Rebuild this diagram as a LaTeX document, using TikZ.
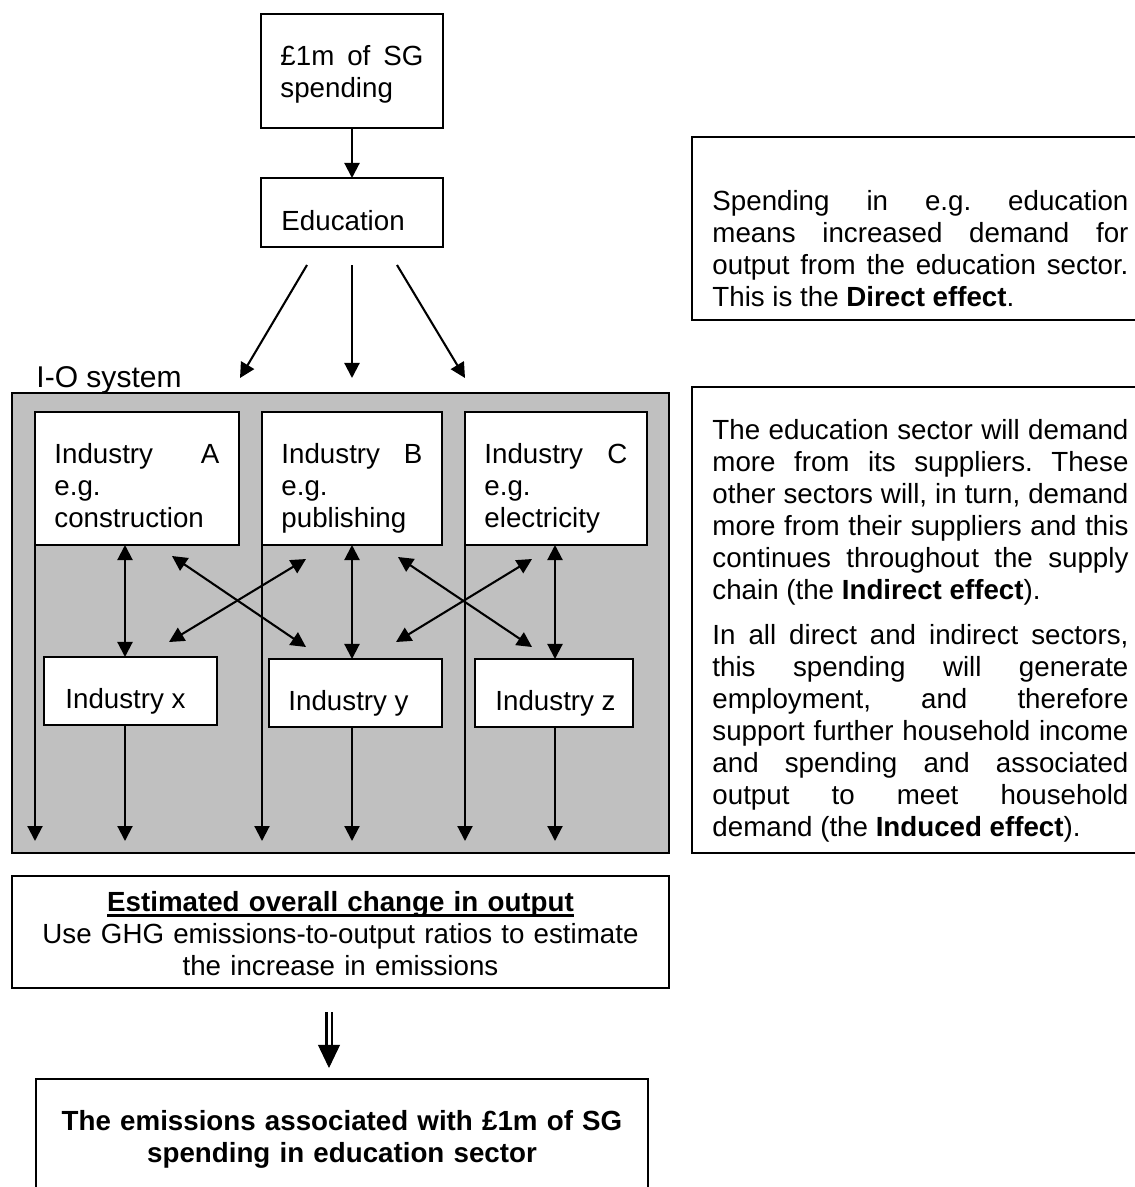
\documentclass[tikz,border=0pt]{standalone}
\usepackage{fontspec}
\setmainfont{Liberation Sans}
\usetikzlibrary{
    calc,
    arrows.meta,
    positioning,
}
\definecolor{iogray}{RGB}{192,192,192}
\newlength{\pxu}
\setlength{\pxu}{0.433pt}
\newlength{\ulw}
\newcommand{\undl}[1]{\settowidth{\ulw}{#1}#1\llap{\rule[-2.4pt]{\ulw}{0.9pt}}}
\tolerance=9999
\hbadness=10000

\begin{document}
\begin{tikzpicture}[x=0.433pt, y=-0.433pt,
        box/.style={draw, line width=0.9pt, fill=white, inner sep=0pt, outer sep=0pt, anchor=north west},
        txt/.style={inner sep=0pt, anchor=base west, font={\fontsize{12}{13.86}\selectfont\frenchspacing}},
        arr/.style={line width=0.9pt, -{Triangle[length=6.5pt, width=6.5pt]}},
        both/.style={line width=0.9pt, {Triangle[length=6.5pt, width=6.5pt]}-{Triangle[length=6.5pt, width=6.5pt]}}]
        \useasboundingbox (0,0) rectangle (1134,1187);

        \node[box, minimum width=182*\pxu, minimum height=114*\pxu] (spend) at (261,14) {};
        \node[txt, text width=143*\pxu, align=justify] (spendtxt) at (280,65) {£1m of SG\linebreak spending};
        \node[box, minimum width=182*\pxu, minimum height=69*\pxu] (edu) at (261,178) {};
        \node[txt] (edutxt) at (281,230) {Education};
        \draw[arr] (spend) -- (edu);

        \coordinate (ioL) at (240,378);
        \coordinate (ioM) at (352,378);
        \coordinate (ioR) at (465,378);
        \foreach \dx/\tgt in {-45/ioL, 0/ioM, 45/ioR}
            \draw[arr] ($(edu.south)+(\dx,18)$) -- (\tgt);

        \node[box, minimum width=460*\pxu, minimum height=183*\pxu] (direct) at (692,137) {};
        \node[txt, text width=416*\pxu, align=justify] (directtxt) at (712,210)
            {Spending in e.g. education\linebreak means increased demand for\linebreak
             output from the education sector.\linebreak This is the \textbf{Direct effect}.};

        \node[txt, font={\fontsize{13}{15}\selectfont}] (iolabel) at (36,387) {I-O system};
        \node[box, fill=iogray, minimum width=657*\pxu, minimum height=460*\pxu] (io) at (12,393) {};

        \foreach \n/\x/\w/\what in {A/35/204/construction, B/262/180/publishing, C/465/182/electricity} {
            \node[box, minimum width=\w*\pxu, minimum height=133*\pxu] (ind\n) at (\x,412) {};
            \node[txt, text width=(\w-39)*\pxu, align=justify] (ind\n txt) at (\x+19,463)
                {Industry \n\linebreak e.g.\linebreak \what};
        }
        \foreach \n/\l/\x/\y/\w/\tx in {X/x/44/657/173/65, Y/y/269/659/173/288, Z/z/475/659/158/495} {
            \node[box, minimum width=\w*\pxu, minimum height=68*\pxu] (ind\n) at (\x,\y) {};
            \node[txt] (ind\n txt) at (\tx,\y+51) {Industry \l};
        }

        \foreach \up/\lo/\da/\db in {indA/indX/-12/-5.5, indB/indY/0/-3.5, indC/indZ/-1/1} {
            \draw[both] ($(\up.south)+(\da,0)$) -- ($(\lo.north)+(\db,0)$);
            \draw[arr] ($(\lo.south)+(\db,0)$) -- ($(\lo.south |- io.south)+(\db,-12)$);
            \draw[arr] ($(\up.south west)+(0,-22)$) -- ($(\up.south west |- io.south)+(0,-12)$);
        }
        \draw[both] ($(indA.south east)+(-67,11)$) -- ($(indY.north west)+(37,-12)$);
        \draw[both] ($(indB.south west)+(44,14)$) -- ($(indX.north east)+(-48,-15)$);
        \draw[both] ($(indB.south east)+(-44,12)$) -- ($(indZ.north west)+(57,-12)$);
        \draw[both] ($(indC.south west)+(67,14)$) -- ($(indY.north east)+(-46,-17)$);

        \node[box, minimum width=450*\pxu, minimum height=466*\pxu] (effects) at (692,387) {};
        \node[txt, text width=416*\pxu, align=justify] (effectstxt) at (712,439)
            {The education sector will demand\linebreak more from its suppliers. These\linebreak
             other sectors will, in turn, demand\linebreak more from their suppliers and this\linebreak
             continues throughout the supply\linebreak chain (the \textbf{Indirect effect}).\par\vspace{6pt}
             In all direct and indirect sectors,\linebreak this spending will generate\linebreak
             employment, and therefore\linebreak support further household income\linebreak
             and spending and associated\linebreak output to meet household\linebreak
             demand (the \textbf{Induced effect}).};

        \node[box, minimum width=657*\pxu, minimum height=112*\pxu] (est) at (12,876) {};
        \node[txt, anchor=base, text width=640*\pxu, align=center] (esttxt) at (340.5,911)
            {\undl{\textbf{Estimated overall change in output}}\\
             Use GHG emissions-to-output ratios to estimate\\ the increase in emissions};

        \coordinate (dtop) at (329,1012);
        \coordinate (dmid) at (329,1045);
        \coordinate (dtip) at (329,1068);
        \draw[line width=0.9pt, double, double distance=1.3pt] (dtop) -- (dmid);
        \draw[-{Triangle[length=10pt, width=9.5pt]}] (dmid) -- (dtip);

        \node[box, minimum width=612*\pxu, minimum height=140*\pxu] (emis) at (36,1079) {};
        \node[txt, anchor=base, text width=600*\pxu, align=center] (emistxt) at (342,1130)
            {\textbf{The emissions associated with £1m of SG}\\ \textbf{spending in education sector}};
    \end{tikzpicture}
\end{document}
